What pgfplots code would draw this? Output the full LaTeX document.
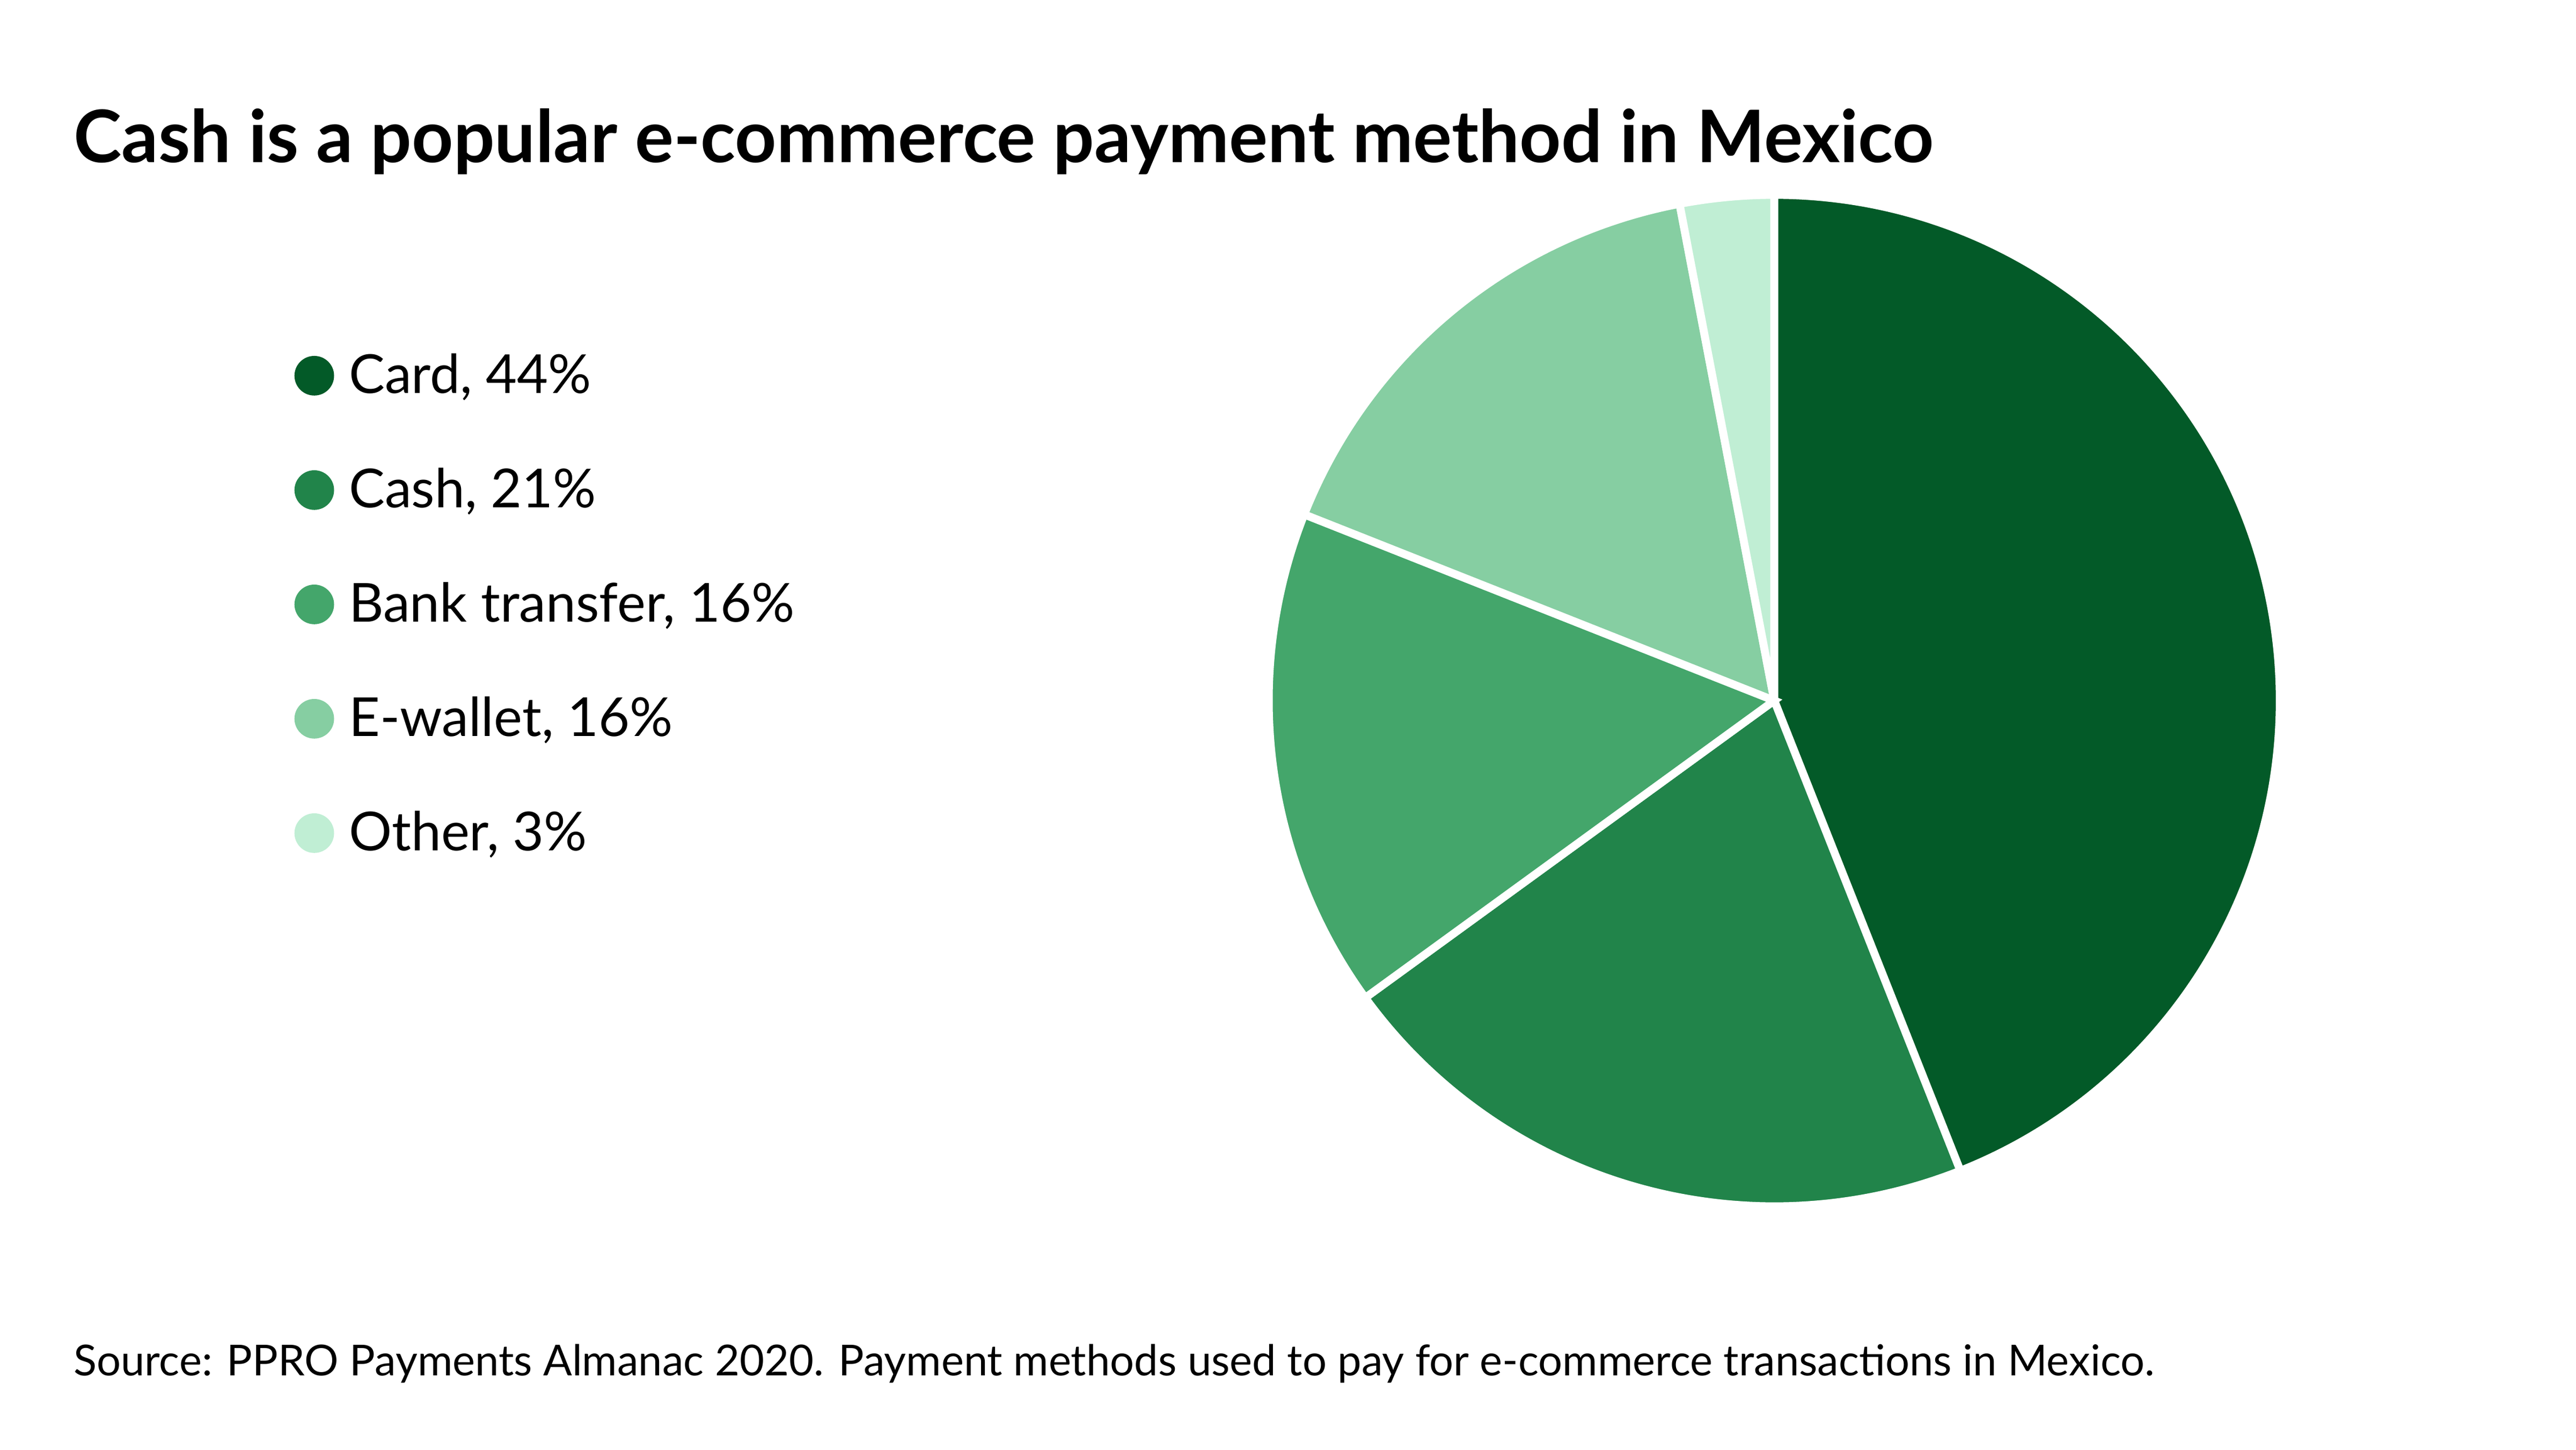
\documentclass[border=0pt]{standalone}
\usepackage{fontspec}
\setmainfont{Lato}
\usepackage{pgfplots}
\usepackage{pgfplotstable}
\pgfplotsset{compat=1.18}

\definecolor{cardc}{HTML}{035A28}
\definecolor{cashc}{HTML}{21844A}
\definecolor{bankc}{HTML}{44A66B}
\definecolor{walletc}{HTML}{86CEA2}
\definecolor{otherc}{HTML}{C0EED4}

% shares in percent, clockwise from 12 o'clock
\pgfplotstableread{
share color
44 cardc
21 cashc
16 bankc
16 walletc
3 otherc
}\piedata

\begin{document}
\begin{tikzpicture}
\path[use as bounding box] (0,0) rectangle (16,9);
\begin{axis}[
    x=1cm, y=1cm,
    xmin=0, xmax=16, ymin=0, ymax=9,
    hide axis, clip=false,
    at={(0,0)}, anchor=south west,
]
% pie
\pgfplotstablegetrowsof{\piedata}
\pgfmathtruncatemacro\nrows{\pgfplotsretval-1}
\def\cum{0}
\pgfplotsforeachungrouped \i in {0,...,\nrows}{
    \pgfplotstablegetelem{\i}{share}\of\piedata \let\val\pgfplotsretval
    \pgfplotstablegetelem{\i}{color}\of\piedata \let\col\pgfplotsretval
    \pgfmathsetmacro\a{90-3.6*\cum}
    \pgfmathsetmacro\b{90-3.6*(\cum+\val)}
    \pgfmathsetmacro\cum{\cum+\val}
    \edef\wedge{\noexpand\fill[\col, draw=white, line width=1.4pt]
        (axis cs:11.02,4.65) -- ++(\a:3.14)
        arc[start angle=\a, end angle=\b, radius=3.14] -- cycle;}
    \wedge
}

% legend markers
\addplot[only marks, mark=*, mark size=3.3pt, color=cardc] coordinates {(1.952,6.667)};
\addplot[only marks, mark=*, mark size=3.3pt, color=cashc] coordinates {(1.952,5.957)};
\addplot[only marks, mark=*, mark size=3.3pt, color=bankc] coordinates {(1.952,5.247)};
\addplot[only marks, mark=*, mark size=3.3pt, color=walletc] coordinates {(1.952,4.537)};
\addplot[only marks, mark=*, mark size=3.3pt, color=otherc] coordinates {(1.952,3.827)};

\tikzset{lbl/.style={anchor=base west, inner sep=0pt, font=\fontsize{9.5}{11}\selectfont}}
\node[lbl] at (axis cs:2.16,6.557) {Card, 44\%};
\node[lbl] at (axis cs:2.16,5.847) {Cash, 21\%};
\node[lbl] at (axis cs:2.16,5.137) {Bank transfer, 16\%};
\node[lbl] at (axis cs:2.16,4.427) {E-wallet, 16\%};
\node[lbl] at (axis cs:2.16,3.717) {Other, 3\%};

% title and source
\node[anchor=base west, inner sep=0pt, font=\fontsize{12.8}{15}\selectfont\bfseries]
    at (axis cs:0.45,7.99) {Cash is a popular e-commerce payment method in Mexico};
\node[anchor=base west, inner sep=0pt, font=\fontsize{7.54}{9}\selectfont]
    at (axis cs:0.45,0.46) {Source: PPRO Payments Almanac 2020. Payment methods used to pay for e-commerce transactions in Mexico.};
\end{axis}
\end{tikzpicture}
\end{document}
